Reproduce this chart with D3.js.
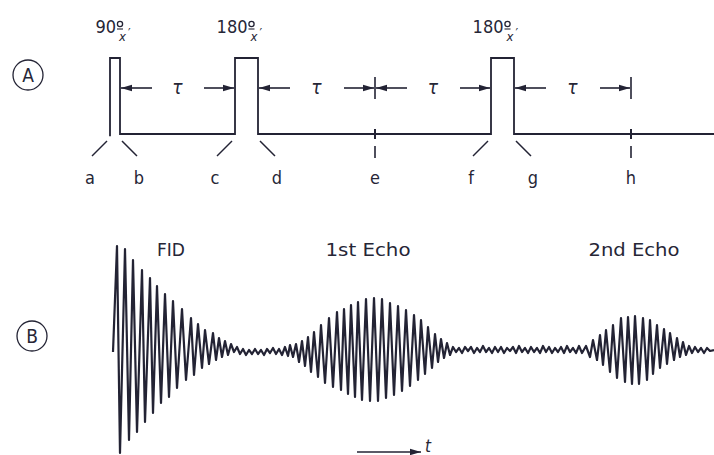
<!DOCTYPE html>
<html>
<head>
<meta charset="utf-8">
<script src="https://cdn.jsdelivr.net/npm/d3@7"></script>
<style>
body { margin: 0; background: #fff; }
svg { display: block; }
text { font-family: "DejaVu Sans Condensed", "Liberation Sans Narrow", "DejaVu Sans", sans-serif; fill: #262636; }
</style>
</head>
<body>
<svg id="chart"></svg>
<script>
// pulse sequence, time units
var pulses = [
  {angle: "90", start: -4, end: 6},
  {angle: "180", start: 121, end: 144},
  {angle: "180", start: 377, end: 400}
];
var echoTimes = [261, 517];
var tauIntervals = [[6, 121], [144, 261], [261, 377], [400, 517]];
var edgeLabels = [
  {name: "a", t: -4, side: -1}, {name: "b", t: 6, side: 1},
  {name: "c", t: 121, side: -1}, {name: "d", t: 144, side: 1},
  {name: "e", t: 261, side: 0},
  {name: "f", t: 377, side: -1}, {name: "g", t: 400, side: 1},
  {name: "h", t: 517, side: 0}
];

// signal turning points [t, amplitude]
var fid = [[-1,-2],[3,104],[6,-103],[11,101],[15,-90],[19,90],[23,-82],[28,80],[31,-72],[36,72],
  [39,-63],[43,64],[47,-53],[51,56],[55,-47],[59,49],[63,-38],[68,41],[72,-30],[77,32],[80,-25],
  [84,26],[88,-18],[91,20],[95,-14],[99,17],[102,-10],[105,12],[108,-7],[111,9],[114,-5],[117,6]];
var noiseA = [[120,-2],[123,3],[126,-4],[129,1],[132,-5],[135,0],[138,-4],[141,1],[144,-4],[147,0],
  [150,-5],[153,1],[156,-3],[159,2],[162,-4],[165,1],[168,-5],[171,3],[174,-6]];
var echo1 = [[176,5],[179,-7],[182,6],[185,-12],[188,9],[191,-16],[194,13],[197,-22],[200,18],[204,-27],
  [207,25],[211,-33],[215,32],[219,-37],[223,38],[227,-40],[230,41],[234,-44],[237,45],[241,-47],
  [244,48],[248,-50],[252,51],[256,-51],[260,52],[264,-51],[268,51],[272,-48],[276,47],[280,-45],
  [284,44],[288,-41],[292,40],[296,-36],[300,35],[304,-30],[307,30],[311,-24],[314,23],[318,-18],
  [321,16],[324,-12],[327,11],[330,-8],[333,7],[336,-5]];
var noiseB = [[339,3],[342,-2],[345,2],[348,-3],[351,3],[354,-1],[357,3],[360,-3],[363,2],[366,-2],
  [369,4],[372,-2],[375,2],[378,-3],[381,3],[384,-2],[387,3],[390,-3],[393,2],[396,-1],
  [399,3],[402,-3],[405,4],[408,-2],[411,2],[414,-3],[417,3],[420,-2],[423,2],[426,-3],
  [429,4],[432,-2],[435,3],[438,-3],[441,2],[444,-2],[447,3],[450,-3],[453,4],[456,-2],
  [459,2],[462,-3],[465,4],[468,-3]];
var echo2 = [[472,4],[476,-7],[479,10],[483,-10],[486,15],[489,-15],[492,20],[496,-22],[499,25],[503,-28],
  [507,32],[511,-32],[514,33],[518,-34],[521,34],[525,-34],[529,32],[533,-30],[536,30],[539,-24],
  [543,25],[546,-18],[550,21],[553,-14],[556,17],[560,-10],[563,12],[566,-7],[569,8],[572,-5]];
var noiseC = [[575,4],[578,-3],[581,3],[584,-2],[587,2],[590,-3],[593,2],[596,-1],[600,0]];

var echoNames = [{name: "FID", t: 57, len: 28}, {name: "1st Echo", t: 254, len: 85}, {name: "2nd Echo", t: 520, len: 91}];

var W = 714, H = 455, ink = "#232334";
var svg = d3.select("#chart").attr("width", W).attr("height", H);

var x = d3.scaleLinear().domain([-10, 600]).range([104, 714]);
var yA = d3.scaleLinear().domain([0, 1]).range([134, 58]);
var yB = d3.scaleLinear().domain([-105, 105]).range([455, 245]);

svg.append("defs").append("marker")
  .attr("id", "head").attr("markerUnits", "userSpaceOnUse")
  .attr("markerWidth", 11).attr("markerHeight", 8)
  .attr("refX", 11).attr("refY", 4).attr("orient", "auto")
  .append("path").attr("d", "M0,0.8 L11,4 L0,7.2 Z").attr("fill", ink);

// ---- panel A ----
var seq = [];
pulses.forEach(function(p, i) {
  seq.push([p.start, i == 0 ? -0.03 : 0], [p.start, 1], [p.end, 1], [p.end, 0]);
});
seq.push([600, 0]);

svg.append("path")
  .attr("d", d3.line().x(function(d) { return x(d[0]); }).y(function(d) { return yA(d[1]); })(seq))
  .attr("fill", "none").attr("stroke", ink).attr("stroke-width", 1.8);

// pulse labels: number, degree mark, subscript x'
pulses.forEach(function(p) {
  var ex = x((p.start + p.end) / 2) + 1;
  svg.append("text").attr("x", ex).attr("y", 33).attr("text-anchor", "end")
    .style("font-size", "18px").text(p.angle);
  svg.append("circle").attr("cx", ex + 4).attr("cy", 24).attr("r", 2.6)
    .attr("fill", "none").attr("stroke", ink).attr("stroke-width", 1.3);
  svg.append("line").attr("x1", ex + 1).attr("x2", ex + 7).attr("y1", 29).attr("y2", 29)
    .attr("stroke", ink).attr("stroke-width", 1.1);
  var sub = svg.append("text").attr("x", ex + 3).attr("y", 41).style("font-size", "13px");
  sub.append("tspan").style("font-style", "italic").text("x");
  sub.append("tspan").attr("dx", 2).attr("dy", -4).text("′");
});

// tau arrows
var ay = 88;
tauIntervals.forEach(function(iv) {
  var x0 = x(iv[0]), x1 = x(iv[1]);
  svg.append("line").attr("x1", x0 + 32).attr("x2", x0 + 1).attr("y1", ay).attr("y2", ay)
    .attr("stroke", ink).attr("stroke-width", 1.6).attr("marker-end", "url(#head)");
  svg.append("line").attr("x1", x1 - 31).attr("x2", x1 - 1).attr("y1", ay).attr("y2", ay)
    .attr("stroke", ink).attr("stroke-width", 1.6).attr("marker-end", "url(#head)");
  svg.append("text").attr("x", (x0 + x1) / 2).attr("y", ay + 6).attr("text-anchor", "middle")
    .style("font-size", "19px").style("font-style", "italic").text("τ");
});
echoTimes.forEach(function(t) {
  svg.append("line").attr("x1", x(t)).attr("x2", x(t)).attr("y1", 77).attr("y2", 99)
    .attr("stroke", ink).attr("stroke-width", 1.6);
  svg.append("line").attr("x1", x(t)).attr("x2", x(t)).attr("y1", 129).attr("y2", 139)
    .attr("stroke", ink).attr("stroke-width", 2);
  svg.append("line").attr("x1", x(t)).attr("x2", x(t)).attr("y1", 146).attr("y2", 158)
    .attr("stroke", ink).attr("stroke-width", 1.6);
});

// edge labels
edgeLabels.forEach(function(l) {
  var ex = x(l.t), lx = ex;
  if (l.side != 0) {
    var x1 = ex + (l.side < 0 ? -3 : 2), x2 = x1 + l.side * 15;
    svg.append("line").attr("x1", x1).attr("y1", 141).attr("x2", x2).attr("y2", 156)
      .attr("stroke", ink).attr("stroke-width", 1.5);
    lx = x2 + l.side * 2;
  }
  svg.append("text").attr("x", lx).attr("y", 184).attr("text-anchor", "middle")
    .style("font-size", "18px").text(l.name);
});

// ---- panel B ----
var signal = fid.concat(noiseA, echo1, noiseB, echo2, noiseC);
svg.append("path")
  .attr("d", d3.line().x(function(d) { return x(d[0]); }).y(function(d) { return yB(d[1]); })(signal))
  .attr("fill", "none").attr("stroke", ink).attr("stroke-width", 2.2)
  .attr("stroke-linejoin", "round");

echoNames.forEach(function(e) {
  svg.append("text").attr("x", x(e.t)).attr("y", 256).attr("text-anchor", "middle")
    .attr("textLength", e.len).attr("lengthAdjust", "spacingAndGlyphs")
    .style("font-size", "18px").text(e.name);
});

// time arrow
svg.append("line").attr("x1", 357).attr("x2", 421).attr("y1", 452).attr("y2", 452)
  .attr("stroke", ink).attr("stroke-width", 1.6).attr("marker-end", "url(#head)");
svg.append("text").attr("x", 425).attr("y", 452).style("font-size", "17px")
  .style("font-style", "italic").text("t");

// circled panel letters
[{name: "A", cx: 28, cy: 75}, {name: "B", cx: 32, cy: 336}].forEach(function(c) {
  svg.append("circle").attr("cx", c.cx).attr("cy", c.cy).attr("r", 15)
    .attr("fill", "none").attr("stroke", ink).attr("stroke-width", 1.3);
  svg.append("text").attr("x", c.cx).attr("y", c.cy + 7).attr("text-anchor", "middle")
    .style("font-size", "19px").text(c.name);
});
</script>
</body>
</html>
